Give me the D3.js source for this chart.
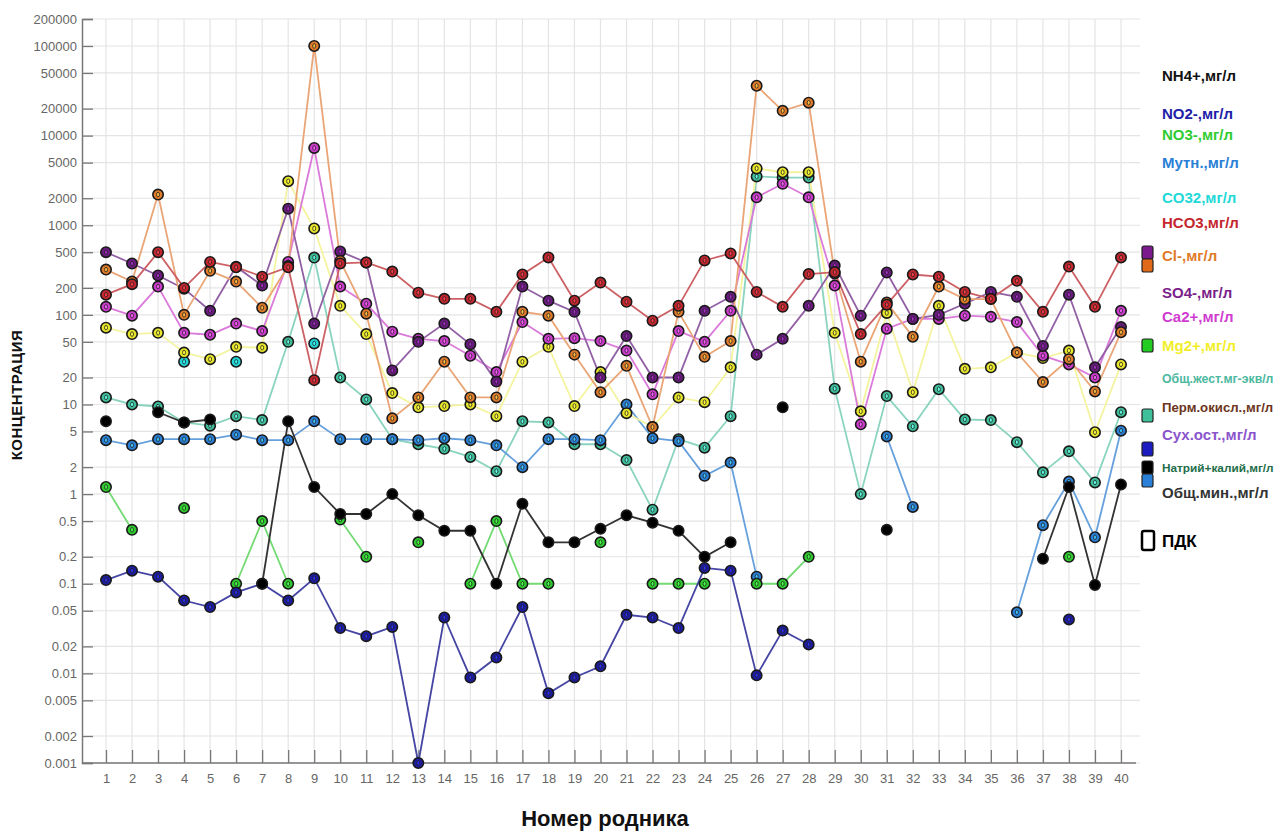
<!DOCTYPE html>
<html><head><meta charset="utf-8">
<script src="https://cdn.jsdelivr.net/npm/d3@7"></script>
<style>body{margin:0;background:#fff} svg{display:block}</style>
</head><body><svg id="c" width="1280" height="834"></svg>
<script>
const springNumbers = [1,2,3,4,5,6,7,8,9,10,11,12,13,14,15,16,17,18,19,20,21,22,23,24,25,26,27,28,29,30,31,32,33,34,35,36,37,38,39,40];
const yTickValues = [0.001,0.002,0.005,0.01,0.02,0.05,0.1,0.2,0.5,1,2,5,10,20,50,100,200,500,1000,2000,5000,10000,20000,50000,100000,200000];

const hardness = [12,10,9.5,6.3,5.8,7.4,6.7,50,436,20,11.4,4.1,3.6,3.2,2.6,1.8,6.5,6.3,3.6,3.6,2.4,0.67,4.1,3.3,7.4,3500,3400,3400,15,1.0,12.4,5.7,14.8,6.8,6.7,3.8,1.75,3.0,1.35,8.2];
const turbidity = [4,3.5,4.1,4.1,4.1,4.6,4,4,6.5,4.1,4.1,4.1,4,4.2,4,3.5,2,4.1,4.1,4,10,4.2,3.9,1.6,2.25,0.12,null,null,null,null,4.4,0.72,null,null,null,0.048,0.45,1.38,0.33,5.1];
const no3 = [1.2,0.4,null,0.7,null,0.1,0.5,0.1,null,0.52,0.2,null,0.29,null,0.1,0.5,0.1,0.1,null,0.29,null,0.1,0.1,0.1,null,0.1,0.1,0.2,null,null,null,null,null,null,null,null,null,0.2,null,null];
const no2 = [0.11,0.14,0.12,0.065,0.055,0.08,0.1,0.065,0.115,0.032,0.026,0.033,0.001,0.042,0.009,0.015,0.055,0.006,0.009,0.012,0.045,0.042,0.032,0.15,0.14,0.0095,0.03,0.021,null,null,null,null,null,null,null,null,null,0.04,null,null];
const nh4 = [6.5,null,8.2,6.3,6.8,null,0.1,6.5,1.2,0.6,0.6,1.0,0.58,0.39,0.39,0.1,0.78,0.29,0.29,0.41,0.58,0.48,0.39,0.2,0.29,null,9.3,null,null,null,0.4,null,null,null,null,null,0.19,1.2,0.097,1.28];
const co3 = [null,null,null,30,null,30,null,null,48,null,null,null,null,null,null,null,null,null,null,null,null,null,null,null,null,null,null,null,null,null,null,null,null,null,null,null,null,null,null,null];
const mg = [72,61,63,38,32,44,43,3100,920,126,61,13.4,9.3,9.6,10,7.4,30,44,9.6,23,8,5.6,12,10.6,26,4300,3900,3900,63,8.4,105,13.7,126,25,26,38,33,40,4.9,28];
const ca = [123,98,207,63,60,80,66,390,7280,207,133,65,54,51,35,23,83,54,55,51,40,13,66,50,111,2050,2900,2050,212,6,70,90,90,98,95,83,35,28,20,111];
const so4 = [500,374,275,196,111,345,212,1530,80,510,384,24,50,80,47,18,207,144,108,20,58,20,20,111,159,36,54,126,355,98,297,90,100,133,180,159,45,168,26,73];
const cl = [320,235,2200,100,310,235,120,350,100000,400,103,7,12,30,12,12,108,98,36,13.7,27,5.6,108,34,51,36000,18900,23300,290,30,137,57,207,150,150,38,17.8,32,14,64];
const hco3 = [168,220,500,200,390,340,267,340,18.7,375,385,304,177,151,151,108,282,437,144,229,140,86,126,405,484,180,123,285,300,61,130,282,267,180,151,240,108,346,123,437];

const legendNames = ['NH4+,мг/л','NO2-,мг/л','NO3-,мг/л','Мутн.,мг/л','CO32,мг/л','HCO3,мг/л','Cl-,мг/л','SO4-,мг/л','Ca2+,мг/л','Mg2+,мг/л','Общ.жест.мг-экв/л','Перм.окисл.,мг/л','Сух.ост.,мг/л','Натрий+калий,мг/л','Общ.мин.,мг/л','ПДК'];
const legendColors = ['#111111','#2020a8','#2fcc2f','#2a7fd6','#22d8d8','#c4262e','#e07b2a','#7a1f8a','#d03cd0','#f2ee2a','#4bb8a0','#6b3520','#8a55cc','#1e6e4a','#333333','#000000'];

const svg = d3.select('#c');
const x = d3.scaleLinear().domain([1,40]).range([106,1121]);
const y = d3.scaleLog().domain([0.001,200000]).range([763,19]);

// grid
const grid = svg.append('g');
grid.selectAll('line.h').data(yTickValues).join('line')
  .attr('x1',84).attr('x2',1140).attr('y1',d=>y(d)).attr('y2',d=>y(d))
  .attr('stroke','#e4e4e4').attr('stroke-width',1.2);
grid.selectAll('line.v').data(springNumbers).join('line')
  .attr('x1',d=>x(d)).attr('x2',d=>x(d)).attr('y1',19).attr('y2',763)
  .attr('stroke','#e4e4e4').attr('stroke-width',1.2);

// axes
const fmt = d => String(d);
const yAxis = d3.axisRight(y).tickValues(yTickValues).tickFormat(fmt).tickSize(11);
const yg = svg.append('g').attr('transform','translate(82,0)').call(yAxis);
yg.select('.domain').attr('stroke','#777').attr('stroke-width',1.5);
yg.selectAll('.tick line').attr('stroke','#777').attr('stroke-width',1.3);
yg.selectAll('.tick text').attr('x',-5).attr('text-anchor','end')
  .attr('fill','#666').attr('font-size',13).attr('font-family','"Liberation Sans",Arial,sans-serif');

const xAxis = d3.axisTop(x).tickValues(springNumbers).tickFormat(d3.format('d')).tickSize(13).tickSizeOuter(0);
const xg = svg.append('g').attr('transform','translate(0,763)').call(xAxis);
xg.select('.domain').attr('d','M82,0H1136').attr('stroke','#777').attr('stroke-width',1.5);
xg.selectAll('.tick line').attr('stroke','#777').attr('stroke-width',1.3);
xg.selectAll('.tick text').attr('y',20).attr('dy','0').attr('fill','#666').attr('font-size',13)
  .attr('font-family','"Liberation Sans",Arial,sans-serif');

svg.append('text').attr('x',605).attr('y',826).attr('text-anchor','middle')
  .attr('font-family','"Liberation Sans",Arial,sans-serif').attr('font-weight','bold').attr('font-size',22)
  .attr('fill','#111').text('Номер родника');
svg.append('text').attr('transform','translate(22,395) rotate(-90)').attr('text-anchor','middle')
  .attr('font-family','"Liberation Sans",Arial,sans-serif').attr('font-weight','bold').attr('font-size',15)
  .attr('fill','#111').attr('letter-spacing',0.5).text('КОНЦЕНТРАЦИЯ');

// series
const series = [
  {values: hardness, fill:'#3fbf9a', line:'#8ad4bf'},
  {values: turbidity, fill:'#2a7fd6', line:'#66a0dc'},
  {values: no3, fill:'#2fcc2f', line:'#74da74'},
  {values: no2, fill:'#1c1ca0', line:'#4545a4'},
  {values: nh4, fill:'#000000', line:'#333333', solid:true},
  {values: co3, fill:'#22d8d8', line:'#7ae6e6'},
  {values: mg, fill:'#e8e62a', line:'#f4f4a0'},
  {values: ca, fill:'#cc3ccc', line:'#da7ada'},
  {values: so4, fill:'#6a1a80', line:'#9260a4'},
  {values: cl, fill:'#e07b2a', line:'#eaa576'},
  {values: hco3, fill:'#c4262e', line:'#cc6064'}
];
const lineGen = d3.line().defined(d=>d.v!=null).x(d=>x(d.s)).y(d=>y(d.v));
series.forEach(s=>{
  const pts = springNumbers.map((sn,i)=>({s:sn, v:s.values[i]}));
  svg.append('path').datum(pts).attr('d',lineGen).attr('fill','none')
    .attr('stroke',s.line).attr('stroke-width',1.8);
});
series.forEach(s=>{
  const pts = springNumbers.map((sn,i)=>({s:sn, v:s.values[i]})).filter(d=>d.v!=null);
  const g = svg.append('g');
  g.selectAll('circle.o').data(pts).join('circle')
    .attr('cx',d=>x(d.s)).attr('cy',d=>y(d.v)).attr('r',5.2)
    .attr('fill',s.fill).attr('stroke','#1a1a1a').attr('stroke-width',1.6);
  if(!s.solid){
    g.selectAll('ellipse.i').data(pts).join('ellipse')
      .attr('cx',d=>x(d.s)).attr('cy',d=>y(d.v)).attr('rx',1.5).attr('ry',2.3)
      .attr('fill',d3.color(s.fill).brighter(1.2)).attr('stroke','#222').attr('stroke-width',0.8);
  }
});

// legend
const legendY = [75,113,134,162,197,222,255,292,316,345,378,407,434,467,492,541];
const lg = svg.append('g');
legendNames.forEach((n,i)=>{
  const fs = i===15?17:15;
  const t = lg.append('text').attr('x',1162).attr('y',legendY[i]+6)
    .attr('font-family','"Liberation Sans",Arial,sans-serif').attr('font-weight','bold')
    .attr('font-size', fs).attr('fill',legendColors[i]).text(n);
  const w = t.node().getComputedTextLength();
  if (w > 112) t.attr('font-size', Math.floor(fs*112/w*10)/10).attr('y', legendY[i]+5);
});
const swatches = [
  {y:246,h:13,c:'#7a1a8c'},{y:259,h:13,c:'#e06a1a'},
  {y:339,h:13,c:'#22cc22'},
  {y:409,h:13,c:'#3fbf9a'},
  {y:442,h:14,c:'#1c1cc0'},
  {y:461,h:13,c:'#000000'},{y:474,h:13,c:'#2a7fd6'}
];
lg.selectAll('rect.sw').data(swatches).join('rect')
  .attr('x',1142).attr('y',d=>d.y).attr('width',11).attr('height',d=>d.h).attr('rx',2)
  .attr('fill',d=>d.c).attr('stroke','#222').attr('stroke-width',1.2);
lg.append('rect').attr('x',1142).attr('y',531).attr('width',12).attr('height',19).attr('rx',2)
  .attr('fill','#fff').attr('stroke','#000').attr('stroke-width',2.5);
</script>
</body></html>
